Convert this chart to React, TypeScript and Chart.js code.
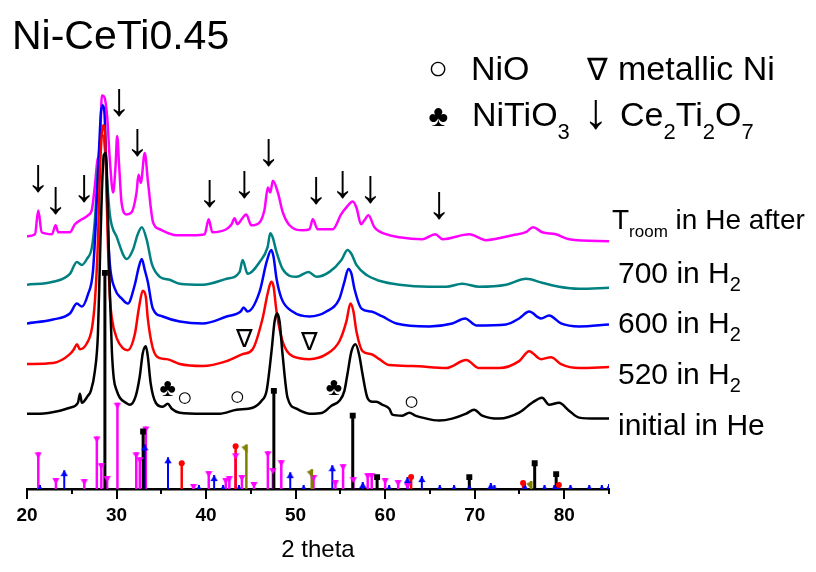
import { useEffect, useRef } from "react";
import { Chart, registerables } from "chart.js";

Chart.register(...registerables);

const FONT = "'Liberation Sans', Arial, Helvetica, sans-serif";

// ---------- axis ----------
const xTickValues = [20, 30, 40, 50, 60, 70, 80];
const xMinorStep = 5;

// ---------- measured XRD patterns (2θ in deg, stacked intensity in a.u.) ----------
const initialHeTheta = [20.0, 21.45, 23.68, 24.79, 25.69, 25.91, 26.13, 26.8, 27.13, 27.58, 27.92, 28.14, 28.36, 28.58, 28.81, 29.03, 29.25, 29.48, 29.7, 30.03, 30.37, 31.04, 31.48, 32.15, 32.6, 32.93, 33.27, 33.49, 33.82, 34.38, 35.16, 35.72, 36.17, 37.06, 39.62, 41.52, 43.41, 45.2, 46.2, 46.76, 47.31, 47.65, 47.93, 48.21, 48.54, 49.1, 50.1, 51.55, 53.0, 54.0, 54.89, 55.45, 55.79, 56.24, 56.69, 57.13, 57.47, 58.02, 58.57, 59.02, 59.69, 60.47, 60.8, 61.92, 62.7, 63.37, 64.15, 66.04, 67.49, 69.05, 69.94, 70.84, 72.74, 74.96, 76.41, 77.53, 78.31, 79.42, 80.54, 81.66, 83.56, 85.0];
const initialHeI = [76, 76, 79, 82, 87, 96, 87, 94, 99, 119, 156, 229, 299, 337, 339, 279, 199, 139, 111, 99, 92, 87, 85, 94, 114, 137, 144, 134, 106, 87, 83, 86, 81, 77, 76, 76, 80, 82, 89, 99, 139, 169, 177, 169, 136, 92, 81, 76, 77, 84, 89, 99, 116, 139, 146, 134, 116, 92, 88, 88, 85, 81, 75, 74, 77, 74, 72, 69, 71, 76, 80, 74, 71, 77, 87, 92, 85, 87, 79, 72, 71, 71];

const h2_520Theta = [20.0, 22.9, 24.79, 25.24, 25.57, 25.91, 26.69, 27.25, 27.58, 27.92, 28.14, 28.36, 28.53, 28.7, 28.86, 29.03, 29.25, 29.48, 30.03, 30.7, 31.26, 32.04, 32.49, 32.93, 33.27, 33.49, 34.05, 34.83, 35.61, 37.06, 39.62, 42.3, 44.08, 45.2, 46.31, 46.87, 47.28, 47.54, 47.87, 48.54, 49.65, 51.55, 53.44, 54.89, 55.67, 56.12, 56.46, 56.79, 57.47, 58.47, 59.35, 60.47, 63.03, 66.82, 69.05, 70.5, 72.74, 74.96, 76.08, 77.41, 78.53, 79.64, 81.65, 85.0];
const h2_520I = [126, 127, 136, 141, 146, 141, 147, 162, 189, 249, 319, 359, 367, 361, 309, 249, 194, 172, 152, 142, 140, 156, 182, 200, 194, 172, 142, 132, 131, 126, 124, 129, 136, 141, 172, 197, 209, 204, 179, 149, 134, 131, 136, 149, 169, 187, 179, 159, 139, 136, 131, 125, 124, 122, 130, 122, 122, 129, 139, 131, 133, 126, 122, 123];

const h2_600Theta = [20.0, 22.9, 24.79, 25.57, 26.13, 26.8, 27.36, 27.69, 28.03, 28.25, 28.44, 28.64, 28.81, 29.03, 29.25, 29.81, 30.59, 31.26, 32.04, 32.49, 32.82, 33.15, 33.49, 34.05, 35.16, 37.06, 39.62, 42.3, 43.86, 44.19, 44.64, 45.98, 46.76, 47.28, 47.54, 47.87, 48.43, 49.65, 51.55, 53.44, 54.89, 55.45, 55.89, 56.24, 56.57, 57.36, 58.46, 59.69, 61.25, 64.93, 67.49, 68.94, 70.17, 73.51, 74.96, 76.08, 77.41, 78.31, 79.64, 81.65, 85.0];
const h2_600I = [167, 171, 177, 187, 184, 196, 219, 269, 339, 379, 387, 381, 339, 264, 227, 202, 192, 187, 206, 224, 232, 221, 209, 182, 174, 169, 167, 174, 179, 183, 179, 199, 229, 241, 234, 212, 192, 179, 174, 179, 192, 209, 222, 217, 202, 182, 179, 174, 167, 164, 167, 172, 165, 166, 172, 179, 172, 175, 167, 164, 166];

const h2_700Theta = [20.0, 22.9, 24.79, 25.57, 26.13, 26.69, 27.25, 27.58, 27.92, 28.14, 28.36, 28.58, 28.81, 29.25, 30.03, 31.15, 31.82, 32.37, 32.82, 33.38, 33.94, 34.83, 35.94, 37.06, 39.62, 42.3, 43.75, 44.08, 44.64, 45.98, 46.87, 47.17, 47.43, 47.87, 48.54, 50.1, 51.44, 52.33, 53.78, 55.12, 55.79, 56.24, 56.79, 57.9, 59.35, 61.58, 64.93, 66.82, 68.61, 70.5, 73.51, 75.74, 77.53, 79.42, 81.65, 85.0];
const h2_700I = [206, 209, 217, 229, 226, 232, 244, 271, 324, 349, 357, 354, 329, 277, 254, 232, 241, 257, 264, 251, 227, 214, 211, 207, 206, 212, 219, 231, 217, 229, 244, 258, 254, 239, 222, 214, 219, 214, 219, 231, 241, 237, 226, 216, 210, 206, 204, 204, 207, 204, 206, 212, 208, 204, 202, 203];

const heAfterTheta = [20.0, 20.89, 21.26, 21.64, 22.79, 23.2, 23.49, 24.79, 25.35, 26.13, 26.8, 27.25, 27.58, 27.88, 28.14, 28.36, 28.58, 28.7, 28.95, 29.25, 29.62, 29.89, 30.07, 30.29, 30.56, 31.11, 31.67, 32.23, 32.45, 32.71, 33.15, 33.52, 34.08, 34.83, 36.69, 38.54, 39.84, 40.29, 40.7, 42.26, 42.85, 43.18, 43.51, 43.73, 44.49, 45.05, 45.98, 46.53, 46.9, 47.17, 47.46, 48.02, 48.57, 49.32, 50.8, 51.55, 51.92, 52.47, 54.15, 55.08, 55.67, 56.38, 56.79, 57.31, 57.68, 58.13, 58.8, 60.1, 61.58, 64.18, 65.6, 66.41, 69.39, 71.25, 74.22, 75.71, 76.52, 77.56, 79.05, 80.54, 85.0];
const heAfterI = [255, 257, 281, 259, 257, 266, 259, 259, 267, 272, 276, 282, 306, 332, 342, 397, 396, 394, 376, 332, 299, 326, 356, 326, 289, 277, 279, 299, 317, 309, 339, 309, 269, 262, 256, 256, 257, 272, 259, 262, 267, 273, 267, 269, 277, 266, 269, 282, 304, 299, 311, 299, 279, 266, 261, 262, 272, 262, 262, 277, 284, 290, 284, 267, 271, 276, 264, 257, 254, 252, 257, 252, 257, 251, 256, 259, 264, 259, 257, 252, 250];

// ---------- reference stick patterns (2θ, relative intensity) ----------
const ce2ti2o7RefTheta = [21.26, 23.23, 26.4, 27.8, 28.3, 28.95, 30.1, 32.2, 32.6, 33.27, 38.6, 40.3, 42.2, 42.6, 43.3, 44.0, 45.35, 46.9, 47.46, 48.4, 52.0, 54.45, 55.3, 56.45, 58.05, 58.5, 60.0, 61.45, 62.5];
const ce2ti2o7RefI = [37, 11, 10, 53, 26, 13, 87, 37, 32, 63, 5, 18, 11, 13, 36, 14, 7, 38, 21, 29, 14, 9, 25, 12, 16, 16, 11, 9, 6];

const nitio3RefTheta = [21.45, 24.16, 33.15, 35.75, 39.2, 40.9, 41.9, 43.67, 49.4, 50.9, 54.1, 57.5, 60.45, 62.5, 64.1, 66.1, 67.7, 69.4, 71.8, 72.2, 75.6, 77.8, 78.9, 79.3, 80.7, 82.8, 84.2, 85.0];
const nitio3RefI = [4, 19, 45, 32, 4, 14, 4, 4, 17, 4, 24, 7, 4, 12, 13, 4, 4, 4, 6, 4, 5, 4, 4, 4, 4, 4, 4, 5];

const ceo2RefTheta = [28.7, 32.97, 47.57, 56.38, 59.1, 69.4, 76.7, 79.1];
const ceo2RefI = [218, 58, 99, 74, 12, 12, 26, 15];

const nioRefTheta = [37.28, 43.3, 62.9, 75.4, 79.4];
const nioRefI = [26, 43, 12, 6, 4];

const niRefTheta = [44.5, 51.8, 76.3];
const niRefI = [45, 20, 8];

// ---------- peak annotations (2θ, level) ----------
const ce2ti2o7ArrowTheta = [21.26, 23.2, 26.39, 30.29, 32.34, 40.4, 44.3, 47.0, 52.3, 55.26, 58.35, 66.04];
const ce2ti2o7ArrowLevel = [313, 291, 303, 390, 349, 298, 307, 339, 301, 307, 302, 286];
const nitio3MarkTheta = [35.69, 54.26];
const nitio3MarkLevel = [101, 102];
const nioMarkTheta = [37.61, 43.49, 62.95];
const nioMarkLevel = [92, 93, 88];
const niMarkTheta = [44.19, 51.47];
const niMarkLevel = [152, 149];

// ---------- helpers ----------
function pairs(xs: number[], ys: number[]) {
  return xs.map((x, i) => ({ x, y: ys[i] }));
}
function stems(xs: number[], ys: number[]) {
  const d: { x: number; y: number | null }[] = [];
  xs.forEach((x, i) => {
    d.push({ x, y: 0 }, { x, y: ys[i] }, { x, y: null });
  });
  return d;
}

function makeMarker(kind: string, color: string) {
  const c = document.createElement("canvas");
  if (kind === "down" || kind === "up") {
    c.width = 8; c.height = 14;
  } else {
    c.width = 12; c.height = 20;
  }
  const g = c.getContext("2d")!;
  g.fillStyle = color;
  g.beginPath();
  if (kind === "down") {
    g.moveTo(0.3, 7); g.lineTo(7.7, 7); g.lineTo(4, 13); g.closePath();
  } else if (kind === "up") {
    g.moveTo(4, 7); g.lineTo(7.7, 13); g.lineTo(0.3, 13); g.closePath();
  } else {
    g.moveTo(7.2, 10); g.lineTo(7.2, 19); g.lineTo(1, 12.5); g.closePath();
  }
  g.fill();
  return c;
}

function drawGlyph(ctx: CanvasRenderingContext2D, ch: string, cx: number, cy: number, h: number) {
  ctx.font = `100px ${FONT}`;
  const m = ctx.measureText(ch);
  const gh = m.actualBoundingBoxAscent + m.actualBoundingBoxDescent;
  const size = (100 * h) / gh;
  ctx.font = `${size}px ${FONT}`;
  const m2 = ctx.measureText(ch);
  ctx.textAlign = "left";
  ctx.textBaseline = "alphabetic";
  const x = cx - (m2.actualBoundingBoxRight - m2.actualBoundingBoxLeft) / 2;
  const y = cy + (m2.actualBoundingBoxAscent - m2.actualBoundingBoxDescent) / 2;
  ctx.fillText(ch, x, y);
}

type Part = [string, boolean];
function drawRich(ctx: CanvasRenderingContext2D, parts: Part[], x: number, base: number, size: number, subSize: number, drop: number) {
  let cx = x;
  ctx.textAlign = "left";
  ctx.textBaseline = "alphabetic";
  for (const [t, sub] of parts) {
    ctx.font = `${sub ? subSize : size}px ${FONT}`;
    ctx.fillText(t, cx, sub ? base + drop : base);
    cx += ctx.measureText(t).width;
  }
}

const overlayPlugin = {
  id: "overlay",
  afterDraw(chart: any) {
    const ctx: CanvasRenderingContext2D = chart.ctx;
    const xs = chart.scales.x;
    const ys = chart.scales.y;
    const area = chart.chartArea;
    ctx.save();
    ctx.fillStyle = "#000";
    ctx.strokeStyle = "#000";

    // major / minor tick marks
    ctx.lineWidth = 2;
    for (let v = 20; v <= 85; v += xMinorStep) {
      const px = Math.round(xs.getPixelForValue(v));
      const len = v % 10 === 0 ? 10 : 5;
      ctx.beginPath();
      ctx.moveTo(px, area.bottom);
      ctx.lineTo(px, area.bottom + len);
      ctx.stroke();
    }

    // phase markers on the patterns
    ce2ti2o7ArrowTheta.forEach((t, i) =>
      drawGlyph(ctx, "\u2193", xs.getPixelForValue(t), ys.getPixelForValue(ce2ti2o7ArrowLevel[i]), 28)
    );
    nitio3MarkTheta.forEach((t, i) =>
      drawGlyph(ctx, "\u2663", xs.getPixelForValue(t), ys.getPixelForValue(nitio3MarkLevel[i]), 15)
    );
    nioMarkTheta.forEach((t, i) =>
      drawGlyph(ctx, "\u25CB", xs.getPixelForValue(t), ys.getPixelForValue(nioMarkLevel[i]), 12)
    );
    niMarkTheta.forEach((t, i) =>
      drawGlyph(ctx, "\u2207", xs.getPixelForValue(t), ys.getPixelForValue(niMarkLevel[i]), 18)
    );

    // title
    ctx.textAlign = "left";
    ctx.textBaseline = "alphabetic";
    ctx.font = `41px ${FONT}`;
    ctx.fillText("Ni-CeTi0.45", 12, 49);

    // legend
    drawGlyph(ctx, "\u25CB", 438, 69, 15);
    drawRich(ctx, [["NiO", false]], 471, 80, 34, 22, 13);
    drawGlyph(ctx, "\u2207", 597, 68, 22);
    drawRich(ctx, [["metallic Ni", false]], 618, 80, 34, 22, 13);
    drawGlyph(ctx, "\u2663", 438, 117, 18);
    drawRich(ctx, [["NiTiO", false], ["3", true]], 472, 126, 34, 22, 13);
    drawGlyph(ctx, "\u2193", 596, 114, 30);
    drawRich(ctx, [["Ce", false], ["2", true], ["Ti", false], ["2", true], ["O", false], ["7", true]], 620, 126, 34, 22, 13);

    // series labels
    drawRich(ctx, [["T", false], ["room", true], [" in He after", false]], 612, 229, 28, 17, 8);
    drawRich(ctx, [["700 in H", false], ["2", true]], 618, 283, 30, 20, 8);
    drawRich(ctx, [["600 in H", false], ["2", true]], 618, 333, 30, 20, 8);
    drawRich(ctx, [["520 in H", false], ["2", true]], 618, 384, 30, 20, 8);
    drawRich(ctx, [["initial in He", false]], 618, 435, 30, 20, 8);

    ctx.restore();
  },
};

export default function App() {
  const ref = useRef<HTMLCanvasElement>(null);

  useEffect(() => {
    if (!ref.current) return;
    const lineDs = (label: string, xs: number[], ys: number[], color: string, order: number) => ({
      type: "line" as const,
      label,
      data: pairs(xs, ys),
      borderColor: color,
      borderWidth: 2.5,
      pointRadius: 0,
      fill: false,
      cubicInterpolationMode: "monotone" as const,
      order,
    });
    const stemDs = (label: string, xs: number[], ys: number[], color: string, w: number, order: number) => ({
      type: "line" as const,
      label,
      data: stems(xs, ys),
      borderColor: color,
      borderWidth: w,
      pointRadius: 0,
      spanGaps: false,
      fill: false,
      order,
    });
    const markDs = (label: string, xs: number[], ys: number[], color: string, style: any, radius: number, order: number) => ({
      type: "scatter" as const,
      label,
      data: pairs(xs, ys),
      pointStyle: style,
      pointRadius: radius,
      backgroundColor: color,
      borderColor: color,
      borderWidth: 0,
      showLine: false,
      order,
    });

    const magenta = "#FF00FF";
    const blue = "#0000FF";
    const red = "#FF0000";
    const olive = "#808000";

    const chart = new Chart(ref.current, {
      type: "line",
      data: {
        datasets: [
          markDs("CeO2 ref", ceo2RefTheta, ceo2RefI, "#000", "rect", 4.2, 0),
          markDs("NiO ref", nioRefTheta, nioRefI, red, "circle", 3, 0),
          markDs("Ni ref", niRefTheta, niRefI, olive, makeMarker("flag", olive), 4, 0),
          markDs("NiTiO3 ref", nitio3RefTheta, nitio3RefI, blue, makeMarker("up", blue), 4, 0),
          markDs("Ce2Ti2O7 ref", ce2ti2o7RefTheta, ce2ti2o7RefI, magenta, makeMarker("down", magenta), 4, 0),
          stemDs("CeO2 stems", ceo2RefTheta, ceo2RefI, "#000", 3, 1),
          stemDs("NiO stems", nioRefTheta, nioRefI, red, 2.5, 1),
          stemDs("Ni stems", niRefTheta, niRefI, olive, 2.5, 1),
          stemDs("NiTiO3 stems", nitio3RefTheta, nitio3RefI, blue, 2, 1),
          stemDs("Ce2Ti2O7 stems", ce2ti2o7RefTheta, ce2ti2o7RefI, magenta, 2.5, 2),
          lineDs("initial in He", initialHeTheta, initialHeI, "#000000", 6),
          lineDs("520 in H2", h2_520Theta, h2_520I, red, 7),
          lineDs("600 in H2", h2_600Theta, h2_600I, blue, 8),
          lineDs("700 in H2", h2_700Theta, h2_700I, "#008080", 9),
          lineDs("Troom in He after", heAfterTheta, heAfterI, magenta, 10),
        ] as any,
      },
      options: {
        animation: false,
        responsive: false,
        events: [],
        layout: { padding: { left: 27, right: 207, top: 0, bottom: 0 } },
        plugins: {
          legend: { display: false },
          tooltip: { enabled: false },
          title: { display: false },
        },
        scales: {
          x: {
            type: "linear",
            min: 20,
            max: 85,
            position: "bottom",
            afterBuildTicks: (s: any) => {
              s.ticks = xTickValues.map((v) => ({ value: v }));
            },
            afterFit: (s: any) => {
              s.height = 83;
            },
            grid: { display: false, drawTicks: false },
            border: { display: true, color: "#000", width: 2.5 },
            ticks: {
              color: "#000",
              font: { family: FONT, size: 19, weight: "bold" },
              padding: 15,
              maxRotation: 0,
              autoSkip: false,
            },
            title: {
              display: true,
              text: "2 theta",
              color: "#000",
              font: { family: FONT, size: 24 },
              padding: { top: 0, bottom: 7 },
            },
          },
          y: { type: "linear", display: false, min: 0, max: 489 },
        },
      } as any,
      plugins: [overlayPlugin],
    });
    return () => chart.destroy();
  }, []);

  return (
    <div style={{ position: "absolute", left: 0, top: 0, width: 816, height: 572, background: "#fff" }}>
      <canvas ref={ref} width={816} height={572} style={{ display: "block" }} />
    </div>
  );
}
